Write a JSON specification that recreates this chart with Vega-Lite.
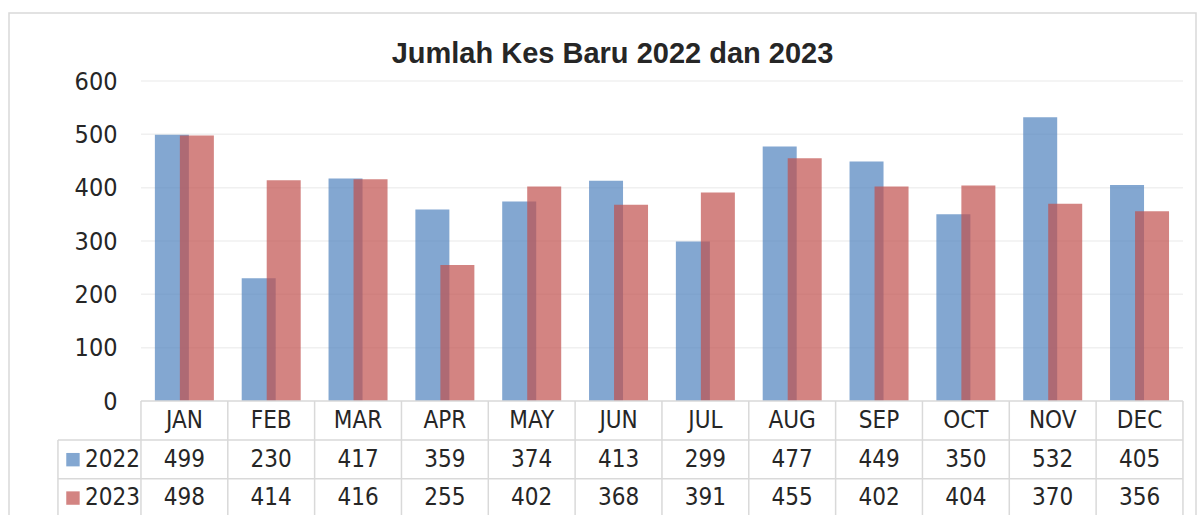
{
  "$schema": "https://vega.github.io/schema/vega-lite/v6.json",
  "width": 1187,
  "height": 504,
  "autosize": {"type": "none"},
  "padding": {"left": 9, "top": 13, "right": 1, "bottom": 0},
  "background": "white",
  "config": {
    "view": {"stroke": "#d9d9d9", "strokeWidth": 1.5},
    "font": "DejaVu Sans Condensed"
  },
  "title": {
    "text": "Jumlah Kes Baru 2022 dan 2023",
    "font": "Liberation Sans",
    "fontWeight": "bold",
    "fontSize": 29,
    "color": "#262626",
    "baseline": "alphabetic",
    "offset": -79,
    "anchor": "middle",
    "dx": 10
  },
  "data": {
    "values": [
      {"month": "JAN", "year": "2022", "cases": 499},
      {"month": "FEB", "year": "2022", "cases": 230},
      {"month": "MAR", "year": "2022", "cases": 417},
      {"month": "APR", "year": "2022", "cases": 359},
      {"month": "MAY", "year": "2022", "cases": 374},
      {"month": "JUN", "year": "2022", "cases": 413},
      {"month": "JUL", "year": "2022", "cases": 299},
      {"month": "AUG", "year": "2022", "cases": 477},
      {"month": "SEP", "year": "2022", "cases": 449},
      {"month": "OCT", "year": "2022", "cases": 350},
      {"month": "NOV", "year": "2022", "cases": 532},
      {"month": "DEC", "year": "2022", "cases": 405},
      {"month": "JAN", "year": "2023", "cases": 498},
      {"month": "FEB", "year": "2023", "cases": 414},
      {"month": "MAR", "year": "2023", "cases": 416},
      {"month": "APR", "year": "2023", "cases": 255},
      {"month": "MAY", "year": "2023", "cases": 402},
      {"month": "JUN", "year": "2023", "cases": 368},
      {"month": "JUL", "year": "2023", "cases": 391},
      {"month": "AUG", "year": "2023", "cases": 455},
      {"month": "SEP", "year": "2023", "cases": 402},
      {"month": "OCT", "year": "2023", "cases": 404},
      {"month": "NOV", "year": "2023", "cases": 370},
      {"month": "DEC", "year": "2023", "cases": 356}
    ]
  },
  "resolve": {"scale": {"x": "shared", "y": "shared"}},
  "layer": [
    {
      "data": {"values": [{"tick": 100}, {"tick": 200}, {"tick": 300}, {"tick": 400}, {"tick": 500}, {"tick": 600}]},
      "mark": {"type": "rule", "color": "#f0f0f0", "strokeWidth": 1.5},
      "encoding": {
        "x": {"datum": "JAN", "type": "nominal", "bandPosition": 0,
              "scale": {"domain": ["JAN","FEB","MAR","APR","MAY","JUN","JUL","AUG","SEP","OCT","NOV","DEC"], "paddingInner": 0, "paddingOuter": 0.835, "align": 0.91}, "axis": null},
        "x2": {"datum": "DEC", "bandPosition": 1},
        "y": {"field": "tick", "type": "quantitative",
              "scale": {"domain": [-217.5, 727.5], "nice": false, "zero": false},
              "axis": {"values": [0, 100, 200, 300, 400, 500, 600], "grid": false, "domain": false, "ticks": false,
                       "labelFontSize": 25, "labelFont": "DejaVu Sans Condensed", "labelColor": "#262626",
                       "labelPadding": 0, "offset": -108, "title": null}}
      }
    },
    {
      "transform": [{"filter": "datum.year == '2022'"}],
      "mark": {"type": "bar", "color": "#4F81BD", "opacity": 0.7, "width": 34, "xOffset": -12.5},
      "encoding": {
        "x": {"field": "month", "type": "nominal"},
        "y": {"field": "cases", "type": "quantitative"},
        "y2": {"datum": 0}
      }
    },
    {
      "transform": [{"filter": "datum.year == '2023'"}],
      "mark": {"type": "bar", "color": "#C0504D", "opacity": 0.7, "width": 34, "xOffset": 12.5},
      "encoding": {
        "x": {"field": "month", "type": "nominal"},
        "y": {"field": "cases", "type": "quantitative"},
        "y2": {"datum": 0}
      }
    },
    {
      "transform": [{"filter": "datum.year == '2022'"}],
      "mark": {"type": "rule", "color": "#d9d9d9", "strokeWidth": 1.5},
      "encoding": {
        "x": {"field": "month", "type": "nominal", "bandPosition": 0},
        "y": {"datum": 0},
        "y2": {"datum": -217.5}
      }
    },
    {
      "data": {"values": [{}]},
      "mark": {"type": "rule", "color": "#d9d9d9", "strokeWidth": 1.5},
      "encoding": {
        "x": {"datum": "DEC", "type": "nominal", "bandPosition": 1},
        "y": {"datum": 0},
        "y2": {"datum": -217.5}
      }
    },
    {
      "data": {"values": [{}]},
      "mark": {"type": "rule", "color": "#d9d9d9", "strokeWidth": 1.5},
      "encoding": {
        "x": {"datum": "JAN", "type": "nominal", "bandPosition": -0.956},
        "y": {"datum": -73},
        "y2": {"datum": -217.5}
      }
    },
    {
      "data": {"values": [{}]},
      "mark": {"type": "rule", "color": "#d9d9d9", "strokeWidth": 1.5},
      "encoding": {
        "x": {"datum": "JAN", "type": "nominal", "bandPosition": 0},
        "x2": {"datum": "DEC", "bandPosition": 1},
        "y": {"datum": 0}
      }
    },
    {
      "data": {"values": [{}]},
      "mark": {"type": "rule", "color": "#d9d9d9", "strokeWidth": 1.5},
      "encoding": {
        "x": {"datum": "JAN", "type": "nominal", "bandPosition": -0.956},
        "x2": {"datum": "DEC", "bandPosition": 1},
        "y": {"datum": -73}
      }
    },
    {
      "data": {"values": [{}]},
      "mark": {"type": "rule", "color": "#d9d9d9", "strokeWidth": 1.5},
      "encoding": {
        "x": {"datum": "JAN", "type": "nominal", "bandPosition": -0.956},
        "x2": {"datum": "DEC", "bandPosition": 1},
        "y": {"datum": -146}
      }
    },
    {
      "transform": [{"filter": "datum.year == '2022'"}],
      "mark": {"type": "text", "fontSize": 24, "font": "DejaVu Sans Condensed", "color": "#262626", "baseline": "middle"},
      "encoding": {
        "x": {"field": "month", "type": "nominal"},
        "y": {"datum": -37.5},
        "text": {"field": "month"}
      }
    },
    {
      "transform": [{"filter": "datum.year == '2022'"}],
      "mark": {"type": "text", "fontSize": 24, "font": "DejaVu Sans Condensed", "color": "#262626", "baseline": "middle"},
      "encoding": {
        "x": {"field": "month", "type": "nominal"},
        "y": {"datum": -110},
        "text": {"field": "cases"}
      }
    },
    {
      "transform": [{"filter": "datum.year == '2023'"}],
      "mark": {"type": "text", "fontSize": 24, "font": "DejaVu Sans Condensed", "color": "#262626", "baseline": "middle"},
      "encoding": {
        "x": {"field": "month", "type": "nominal"},
        "y": {"datum": -182},
        "text": {"field": "cases"}
      }
    },
    {
      "transform": [{"filter": "datum.year == '2022' && datum.month == 'JAN'"}],
      "mark": {"type": "point", "shape": "square", "filled": true, "size": 180, "color": "#4F81BD", "opacity": 0.7},
      "encoding": {
        "x": {"datum": "JAN", "type": "nominal", "bandPosition": -0.783},
        "y": {"datum": -110}
      }
    },
    {
      "transform": [{"filter": "datum.year == '2023' && datum.month == 'JAN'"}],
      "mark": {"type": "point", "shape": "square", "filled": true, "size": 180, "color": "#C0504D", "opacity": 0.7},
      "encoding": {
        "x": {"datum": "JAN", "type": "nominal", "bandPosition": -0.783},
        "y": {"datum": -182}
      }
    },
    {
      "transform": [{"filter": "datum.year == '2022' && datum.month == 'JAN'"}],
      "mark": {"type": "text", "fontSize": 24, "font": "DejaVu Sans Condensed", "color": "#262626", "baseline": "middle", "align": "left"},
      "encoding": {
        "x": {"datum": "JAN", "type": "nominal", "bandPosition": -0.645},
        "y": {"datum": -110},
        "text": {"field": "year"}
      }
    },
    {
      "transform": [{"filter": "datum.year == '2023' && datum.month == 'JAN'"}],
      "mark": {"type": "text", "fontSize": 24, "font": "DejaVu Sans Condensed", "color": "#262626", "baseline": "middle", "align": "left"},
      "encoding": {
        "x": {"datum": "JAN", "type": "nominal", "bandPosition": -0.645},
        "y": {"datum": -182},
        "text": {"field": "year"}
      }
    }
  ]
}
